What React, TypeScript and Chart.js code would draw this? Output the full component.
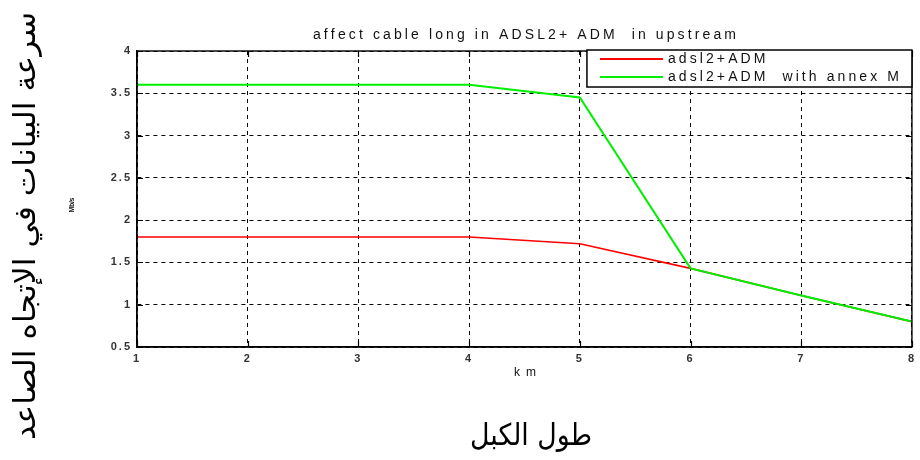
import { useEffect, useRef } from "react";
import { Chart, registerables } from "chart.js";

Chart.register(...registerables);

// ---- data ----
const distanceKm = [1, 2, 3, 4, 5, 6, 7, 8];
const adslAdm = [1.8, 1.8, 1.8, 1.8, 1.72, 1.43, 1.11, 0.8];
const adslAdmAnnexM = [3.6, 3.6, 3.6, 3.6, 3.45, 1.43, 1.11, 0.8];
const seriesLabels = ["adsl2+ADM", "adsl2+ADM  with annex M"];
const seriesColors = ["#ff0000", "#00ee00"];
const chartTitle = "affect cable long in ADSL2+ ADM  in upstream";
const xAxisTitle = "km";
const yAxisTitle = "Mb/s";
const arabicYTitle = "سرعة البيانات في الإتجاه الصاعد";
const arabicXTitle = "طول الكبل";

const LATIN = '"Liberation Sans", Arial, sans-serif';
const ARABIC = '"DejaVu Sans", sans-serif';

function drawSpaced(
  ctx: CanvasRenderingContext2D,
  text: string,
  x: number,
  y: number,
  targetWidth: number | null,
  spacing: number,
  align: "left" | "center"
) {
  const chars = Array.from(text);
  const widths = chars.map((c) => ctx.measureText(c).width);
  const base = widths.reduce((a, b) => a + b, 0);
  const sp = targetWidth != null ? (targetWidth - base) / (chars.length - 1) : spacing;
  const total = base + sp * (chars.length - 1);
  let cx = align === "center" ? x - total / 2 : x;
  ctx.textAlign = "left";
  chars.forEach((c, i) => {
    ctx.fillText(c, cx, y);
    cx += widths[i] + sp;
  });
  return sp;
}

const decorPlugin = {
  id: "decor",
  beforeDraw(chart: any) {
    const ctx = chart.ctx as any;
    if ("letterSpacing" in ctx) ctx.letterSpacing = "2px";
  },
  afterDraw(chart: any) {
    const ctx = chart.ctx as CanvasRenderingContext2D;
    if ("letterSpacing" in ctx) (ctx as any).letterSpacing = "0px";
    const a = chart.chartArea;
    const sx = chart.scales.x;
    const sy = chart.scales.y;
    ctx.save();
    ctx.setLineDash([]);
    ctx.strokeStyle = "#000";
    ctx.lineWidth = 1.4;
    ctx.strokeRect(a.left, a.top, a.right - a.left, a.bottom - a.top);

    // inner tick marks
    ctx.lineWidth = 1.2;
    ctx.beginPath();
    sx.ticks.forEach((t: any) => {
      const px = Math.round(sx.getPixelForValue(t.value)) + 0.5;
      ctx.moveTo(px, a.bottom);
      ctx.lineTo(px, a.bottom - 6);
      ctx.moveTo(px, a.top);
      ctx.lineTo(px, a.top + 6);
    });
    sy.ticks.forEach((t: any) => {
      const py = Math.round(sy.getPixelForValue(t.value)) + 0.5;
      ctx.moveTo(a.left, py);
      ctx.lineTo(a.left + 6, py);
      ctx.moveTo(a.right, py);
      ctx.lineTo(a.right - 6, py);
    });
    ctx.stroke();

    // title
    ctx.fillStyle = "#111";
    ctx.textBaseline = "middle";
    ctx.font = `14px ${LATIN}`;
    drawSpaced(ctx, chartTitle, (a.left + a.right) / 2, 35, 423, 0, "center");

    // x axis title
    ctx.font = `12px ${LATIN}`;
    drawSpaced(ctx, xAxisTitle, 525, 373, 22, 0, "center");

    // y axis title (tiny, rotated)
    ctx.save();
    ctx.translate(72, 205);
    ctx.rotate(-Math.PI / 2);
    ctx.font = `bold 7px ${LATIN}`;
    drawSpaced(ctx, yAxisTitle, 0, 0, 15, 0, "center");
    ctx.restore();

    // legend
    const lw = 325;
    const lh = 37;
    const lx = a.right - lw;
    const ly = a.top - 1;
    ctx.fillStyle = "#fff";
    ctx.fillRect(lx, ly, lw, lh);
    ctx.strokeStyle = "#000";
    ctx.lineWidth = 1.5;
    ctx.strokeRect(lx, ly, lw, lh);
    ctx.font = `14px ${LATIN}`;
    const rows = [ly + 9, ly + 27];
    const sp = (() => {
      const chars = Array.from(seriesLabels[1]);
      const base = chars.map((c) => ctx.measureText(c).width).reduce((p, q) => p + q, 0);
      return (231 - base) / (chars.length - 1);
    })();
    chart.data.datasets.forEach((ds: any, i: number) => {
      ctx.strokeStyle = ds.borderColor;
      ctx.lineWidth = 2;
      ctx.beginPath();
      ctx.moveTo(lx + 13, rows[i]);
      ctx.lineTo(lx + 76, rows[i]);
      ctx.stroke();
      ctx.fillStyle = "#111";
      drawSpaced(ctx, ds.label, lx + 81, rows[i], null, sp, "left");
    });

    // Arabic titles
    ctx.fillStyle = "#000";
    ctx.textAlign = "center";
    ctx.textBaseline = "middle";
    ctx.font = `30px ${ARABIC}`;
    ctx.save();
    ctx.translate(27, 226);
    ctx.rotate(-Math.PI / 2);
    const wY = ctx.measureText(arabicYTitle).width;
    ctx.scale(428 / wY, 1);
    ctx.fillText(arabicYTitle, 0, 0);
    ctx.restore();

    ctx.save();
    ctx.translate(531, 437);
    const wX = ctx.measureText(arabicXTitle).width;
    ctx.scale(122 / wX, 1);
    ctx.fillText(arabicXTitle, 0, 0);
    ctx.restore();

    ctx.restore();
  },
};

export default function App() {
  const ref = useRef<HTMLCanvasElement | null>(null);
  useEffect(() => {
    document.body.style.margin = "0";
    const canvas = ref.current!;
    const tickFont = { family: LATIN, size: 11, weight: "bold" as const };
    const chart = new Chart(canvas, {
      type: "line",
      data: {
        datasets: [
          {
            label: seriesLabels[0],
            data: distanceKm.map((x, i) => ({ x, y: adslAdm[i] })),
            borderColor: seriesColors[0],
            backgroundColor: seriesColors[0],
            borderWidth: 1.6,
            pointRadius: 0,
            tension: 0,
            order: 1,
          },
          {
            label: seriesLabels[1],
            data: distanceKm.map((x, i) => ({ x, y: adslAdmAnnexM[i] })),
            borderColor: seriesColors[1],
            backgroundColor: seriesColors[1],
            borderWidth: 2,
            pointRadius: 0,
            tension: 0,
            order: 0,
          },
        ],
      },
      options: {
        animation: false,
        responsive: false,
        layout: { padding: { left: 77, right: 2, top: 51, bottom: 83 } },
        plugins: { legend: { display: false }, tooltip: { enabled: false }, title: { display: false } },
        scales: {
          x: {
            type: "linear",
            min: 1,
            max: 8,
            ticks: {
              stepSize: 1,
              color: "#333",
              font: tickFont,
              padding: 5,
              maxRotation: 0,
              callback: (v: any) => String(v),
            },
            grid: { color: "#000", lineWidth: 1, drawTicks: false },
            border: { display: true, color: "#000", width: 1.4, dash: [4, 4] },
            afterFit: (s: any) => {
              s.height = 30;
            },
          },
          y: {
            type: "linear",
            min: 0.5,
            max: 4,
            ticks: {
              stepSize: 0.5,
              color: "#333",
              font: tickFont,
              padding: 5,
              callback: (v: any) => String(v),
            },
            grid: { color: "#000", lineWidth: 1, drawTicks: false },
            border: { display: true, color: "#000", width: 1.4, dash: [4, 4] },
            afterFit: (s: any) => {
              s.width = 60;
            },
          },
        },
      },
      plugins: [decorPlugin],
    });
    return () => chart.destroy();
  }, []);
  return <canvas ref={ref} width={920} height={460} style={{ display: "block" }} />;
}
